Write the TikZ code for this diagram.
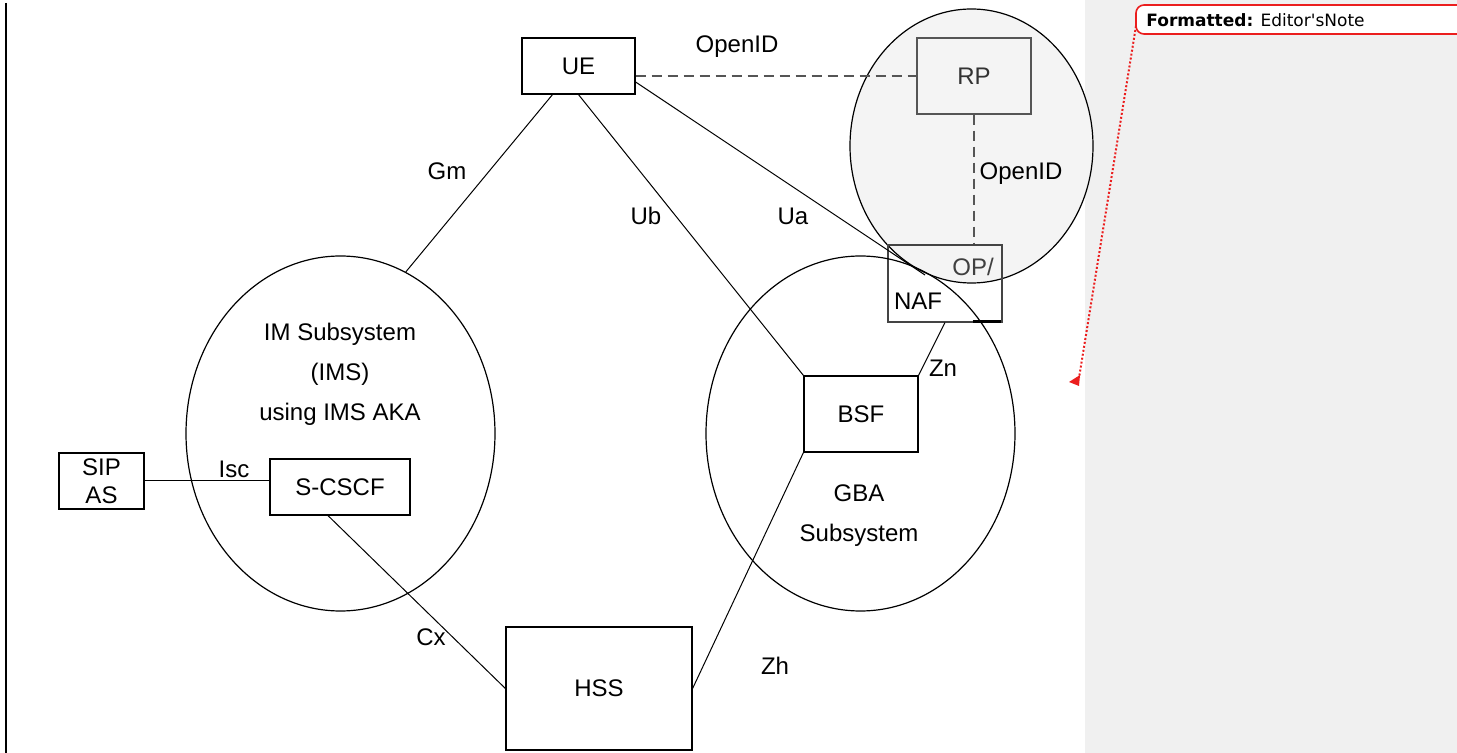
\documentclass[tikz,border=0pt]{standalone}
\usepackage{fontspec}
\setmainfont{Liberation Sans}
\newfontfamily\notefont{DejaVu Sans}
\usetikzlibrary{shapes.geometric,calc,arrows.meta}
\definecolor{panelgrey}{RGB}{240,240,240}
\definecolor{opgrey}{RGB}{244,244,244}
\definecolor{edgegrey}{RGB}{85,85,85}
\definecolor{notered}{RGB}{235,30,30}
\begin{document}
\begin{tikzpicture}[x=0.5pt,y=-0.5pt,
	font=\fontsize{12}{14}\selectfont,
	box/.style={draw,line width=0.6pt,inner sep=0pt,align=center},
	subsys/.style={draw,ellipse,line width=0.6pt,inner sep=0pt,minimum width=154.5pt,minimum height=177.5pt},
	link/.style={line width=0.5pt},
	oid/.style={line width=0.6pt,edgegrey,dash pattern=on 5pt off 3pt}]
	\useasboundingbox (0,0) rectangle (1457,753);
	\fill[panelgrey] (1085,0) rectangle (1457,753);
	\draw[line width=1pt] (6,3) -- (6,753);

	\node[draw,ellipse,fill=opgrey,line width=0.6pt,inner sep=0pt,minimum width=121.5pt,minimum height=137pt] (opzone) at (971.5,146) {};
	\node[box,fill=opgrey,draw=edgegrey,text=black!80,minimum width=57pt,minimum height=38pt] (rp) at (974,76) {RP};
	\node[box,draw=edgegrey!80!black,minimum width=57pt,minimum height=38.5pt] (naf) at (945,283.5) {};
	\node[text=black!75] at (973,267) {OP/};
	\node at (918,301) {NAF};
	\draw[line width=1.2pt] ($(naf.south east)+(-30,-1)$) -- ($(naf.south east)+(-2,-1)$);

	\node[subsys] (ims) at (340.5,433.5) {};
	\node[subsys] (gba) at (860.5,433.5) {};

	\node[box,minimum width=56.5pt,minimum height=28pt] (ue) at (578.5,66) {UE};
	\node[box,minimum width=42.5pt,minimum height=28pt] (sipas) at (101.5,481) {SIP\\AS};
	\node[box,minimum width=70pt,minimum height=28pt] (scscf) at (340,487) {S-CSCF};
	\node[box,minimum width=57pt,minimum height=38pt] (bsf) at (861,414) {BSF};
	\node[box,minimum width=93pt,minimum height=61.5pt] (hss) at (599,688.5) {HSS};
	\coordinate (uaend) at (925,275);

	\node[align=center] at (340,374) {IM Subsystem\\[6pt](IMS)\\[6pt]using IMS AKA};
	\node[align=center] at (859,516) {GBA\\[6pt]Subsystem};

	\draw[oid] (ue.east |- rp.west) -- (rp.west);
	\draw[oid] (rp.south) -- (rp.south |- naf.north);
	\draw[link] ($(ue.south)+(-26,0)$) -- (ims.68);
	\draw[link] (ue.south) -- (bsf.north west);
	\draw[link] ($(ue.east)+(0,16)$) -- (uaend);
	\draw[link] (naf.south) -- (bsf.north east);
	\draw[link] (bsf.south west) -- (hss.east);
	\draw[link] ($(scscf.south)+(-12,0)$) -- (hss.west);
	\draw[link] (sipas.east) -- (sipas.east -| scscf.west);

	\node at (737,47) {OpenID};
	\node at (1021,174) {OpenID};
	\node at (447,171) {Gm};
	\node at (646,216) {Ub};
	\node at (793,216) {Ua};
	\node at (943,368) {Zn};
	\node at (234,469) {Isc};
	\node at (431,637) {Cx};
	\node at (775,666) {Zh};

	\draw[notered,line width=0.8pt,fill=white,rounded corners=4pt] (1136,5) rectangle (1470,34);
	\node[anchor=west,inner sep=0pt,font=\notefont\fontsize{8.5}{10}\selectfont] (note) at (1146,20) {\textbf{Formatted:} Editor'sNote};
	\draw[notered,line width=1pt,dash pattern=on 1pt off 1pt] (1136,26) -- (1079,378);
	\fill[notered] (1069,382) -- (1080,375) -- (1079,386) -- cycle;
\end{tikzpicture}
\end{document}
